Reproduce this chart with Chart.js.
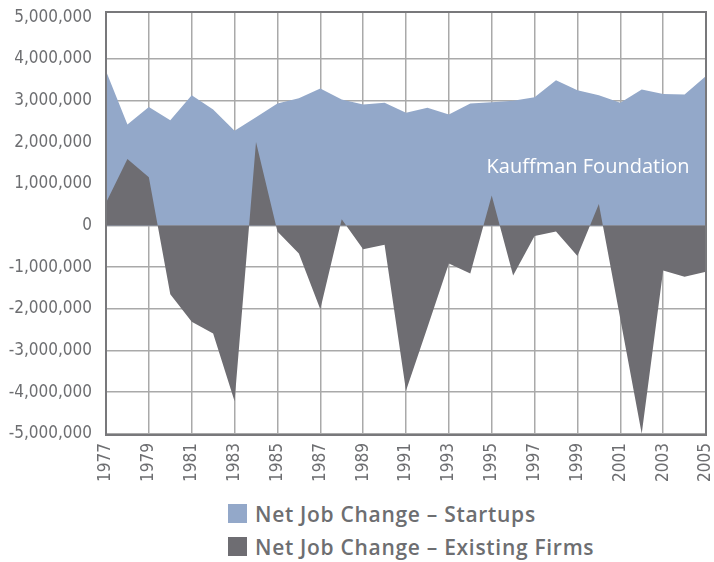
<!DOCTYPE html>
<html>
<head>
<meta charset="utf-8">
<script src="https://cdn.jsdelivr.net/npm/chart.js@4/dist/chart.umd.min.js"></script>
<style>
  body { margin: 0; background: #fff; }
  #wrap { position: relative; width: 714px; height: 562px; }
  #chartBox { position: absolute; left: 0; top: 0; width: 714px; height: 496px; }
  #legend { position: absolute; left: 228px; top: 497px; font-family: "Open Sans", sans-serif; font-weight: 600; font-size: 21px; letter-spacing: 0.7px; color: #6d6e71; }
  #legend div { display: flex; align-items: center; height: 33px; }
  #legend span.box { display: inline-block; width: 19px; height: 19px; margin-right: 8px; }
</style>
</head>
<body>
<div id="wrap">
  <div id="chartBox"><canvas id="jobsChart"></canvas></div>
  <div id="legend"></div>
</div>
<script>
const years = [1977, 1978, 1979, 1980, 1981, 1982, 1983, 1984, 1985, 1986,
  1987, 1988, 1989, 1990, 1991, 1992, 1993, 1994, 1995, 1996,
  1997, 1998, 1999, 2000, 2001, 2002, 2003, 2004, 2005];

const startups = [3710000, 2430000, 2850000, 2530000, 3130000, 2790000, 2280000, 2600000, 2930000, 3060000,
  3290000, 3030000, 2910000, 2950000, 2710000, 2830000, 2670000, 2930000, 2960000, 3000000,
  3080000, 3490000, 3250000, 3130000, 2950000, 3270000, 3160000, 3150000, 3590000];

const existingFirms = [550000, 1600000, 1160000, -1650000, -2310000, -2590000, -4220000, 2010000, -140000, -670000,
  -2010000, 150000, -570000, -460000, -3970000, -2450000, -910000, -1150000, 720000, -1200000,
  -250000, -140000, -730000, 520000, -2240000, -5000000, -1080000, -1230000, -1110000];

const yTicks = [-5000000, -4000000, -3000000, -2000000, -1000000, 0, 1000000, 2000000, 3000000, 4000000, 5000000];
const seriesNames = ["Net Job Change \u2013 Startups", "Net Job Change \u2013 Existing Firms"];
const seriesColors = ["#93a8c9", "#6e6d72"];

const tickFont = { family: "'DejaVu Sans Condensed', 'Liberation Sans Narrow', sans-serif", size: 17 };

// frame round the plot area plus the watermark text
const framePlugin = {
  id: "frame",
  afterDatasetsDraw(chart) {
    const { ctx, chartArea, scales } = chart;
    ctx.save();
    ctx.fillStyle = "#ffffff";
    ctx.font = '20px "Open Sans", sans-serif';
    ctx.textAlign = "right";
    ctx.textBaseline = "middle";
    ctx.fillText("Kauffman Foundation", scales.x.getPixelForValue(2004.23), scales.y.getPixelForValue(1390000));
    ctx.strokeStyle = "#78787b";
    ctx.lineWidth = 2;
    ctx.strokeRect(chartArea.left, chartArea.top, chartArea.right - chartArea.left, chartArea.bottom - chartArea.top);
    ctx.restore();
  }
};

const ctx = document.getElementById("jobsChart").getContext("2d");
new Chart(ctx, {
  type: "line",
  data: {
    datasets: [
      {
        label: seriesNames[0],
        data: years.map((yr, i) => ({ x: yr, y: startups[i] })),
        backgroundColor: seriesColors[0],
        borderWidth: 0,
        pointRadius: 0,
        fill: "origin",
        tension: 0,
        order: 2
      },
      {
        label: seriesNames[1],
        data: years.map((yr, i) => ({ x: yr, y: existingFirms[i] })),
        backgroundColor: seriesColors[1],
        borderWidth: 0,
        pointRadius: 0,
        fill: "origin",
        tension: 0,
        order: 1
      }
    ]
  },
  options: {
    responsive: true,
    maintainAspectRatio: false,
    animation: false,
    layout: { padding: { top: 12, right: 8, left: 0, bottom: 0 } },
    plugins: {
      legend: { display: false },
      tooltip: { enabled: false }
    },
    scales: {
      x: {
        type: "linear",
        min: 1977,
        max: 2005,
        afterBuildTicks: function (scale) {
          scale.ticks = years.filter((yr, i) => i % 2 === 0).map(v => ({ value: v }));
        },
        afterFit: function (scale) {
          scale.height = 61;
          scale.paddingLeft = 0;
          scale.paddingRight = 0;
        },
        grid: { color: "#a9a9a9", lineWidth: 1.5, drawTicks: false },
        border: { display: false },
        ticks: {
          color: "#6d6e71",
          font: tickFont,
          padding: 8,
          minRotation: 90,
          maxRotation: 90,
          autoSkip: false,
          callback: function (value) { return String(value); }
        }
      },
      y: {
        min: -5030000,
        max: 5130000,
        afterBuildTicks: function (scale) {
          scale.ticks = yTicks.map(v => ({ value: v }));
        },
        afterFit: function (scale) {
          scale.width = 106;
          scale.paddingTop = 0;
          scale.paddingBottom = 0;
        },
        grid: {
          color: function (c) { return c.tick && c.tick.value === 5000000 ? "rgba(0,0,0,0)" : "#a9a9a9"; },
          lineWidth: 1.5,
          drawTicks: false
        },
        border: { display: false },
        ticks: {
          color: "#6d6e71",
          font: tickFont,
          padding: 14,
          callback: function (value) { return value.toLocaleString("en-US"); }
        }
      }
    }
  },
  plugins: [framePlugin]
});

// legend below the chart, one row per series
const legend = document.getElementById("legend");
seriesNames.forEach((name, i) => {
  const row = document.createElement("div");
  row.innerHTML = `<span class="box" style="background:${seriesColors[i]}"></span><span>${name}</span>`;
  legend.appendChild(row);
});
</script>
</body>
</html>
